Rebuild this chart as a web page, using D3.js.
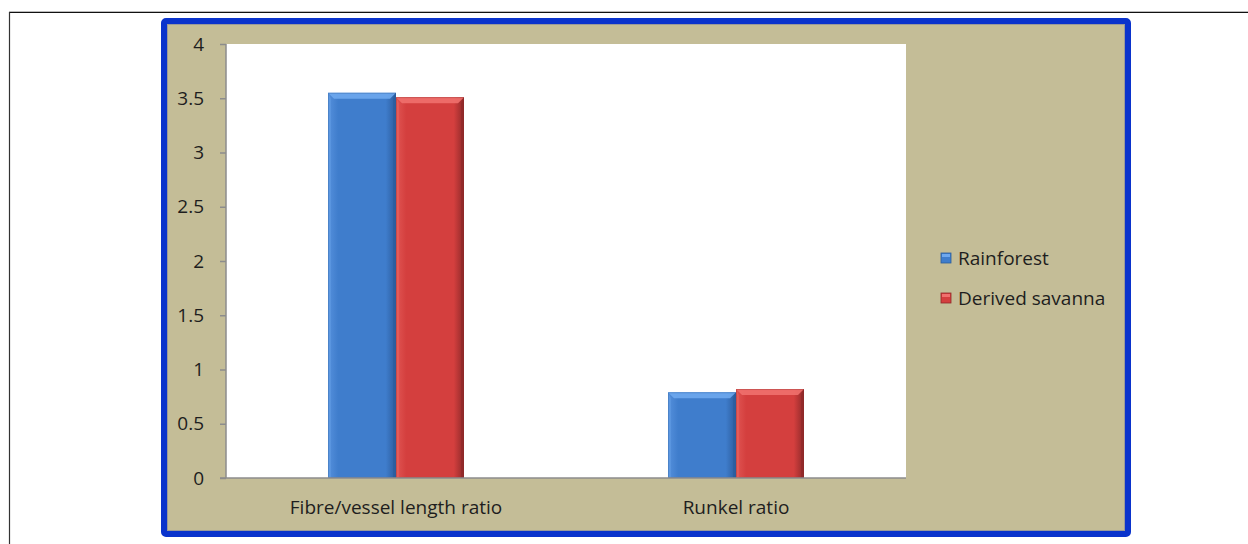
<!DOCTYPE html>
<html>
<head>
<meta charset="utf-8">
<script src="https://cdn.jsdelivr.net/npm/d3@7"></script>
<style>
  html, body { margin: 0; padding: 0; background: #ffffff; }
  svg { display: block; }
</style>
</head>
<body>
<svg id="chart" width="1248" height="544"></svg>
<script>
// Wood anatomy ratios by vegetation zone
const categories = ["Fibre/vessel length ratio", "Runkel ratio"];
const seriesNames = ["Rainforest", "Derived savanna"];
const rainforest = [3.55, 0.79];
const derivedSavanna = [3.51, 0.82];
const yTicks = [0, 0.5, 1, 1.5, 2, 2.5, 3, 3.5, 4];

const seriesValues = [rainforest, derivedSavanna];
const palette = [
  { base: "#3f7dcc", light: "#6ea8ee", dark: "#2b5c9c", side: "#5590dc" },
  { base: "#d43f3e", light: "#f0706d", dark: "#8f2a2a", side: "#e05553" }
];

const svg = d3.select("#chart");
const font = "'Open Sans', sans-serif";
const fontSize = "19px";

// page frame lines
svg.append("line").attr("x1", 9).attr("x2", 1248).attr("y1", 11.5).attr("y2", 11.5)
  .attr("stroke", "#bbbbbb").attr("stroke-width", 1);
svg.append("line").attr("x1", 9).attr("x2", 1248).attr("y1", 12.5).attr("y2", 12.5)
  .attr("stroke", "#111111").attr("stroke-width", 1.2);
svg.append("line").attr("x1", 9.5).attr("x2", 9.5).attr("y1", 12).attr("y2", 544)
  .attr("stroke", "#333333").attr("stroke-width", 1.2);

// chart area with blue frame
svg.append("rect").attr("x", 164).attr("y", 21).attr("width", 964).attr("height", 513)
  .attr("rx", 2).attr("fill", "#c4bd97").attr("stroke", "#0a33cc").attr("stroke-width", 6);
svg.append("rect").attr("x", 167.5).attr("y", 24.5).attr("width", 957).attr("height", 506)
  .attr("fill", "none").attr("stroke", "#9a9a9a").attr("stroke-width", 1);

const plot = { left: 226, right: 906, top: 44, bottom: 478 };

svg.append("rect").attr("x", plot.left).attr("y", plot.top)
  .attr("width", plot.right - plot.left).attr("height", plot.bottom - plot.top)
  .attr("fill", "#ffffff");

const x0 = d3.scaleBand().domain(categories).range([plot.left, plot.right]);
const barW = x0.bandwidth() * 0.2;
const x1 = d3.scaleBand().domain(seriesNames).range([0, barW * 2]);
const y = d3.scaleLinear().domain([0, 4]).range([plot.bottom, plot.top]);

// gradients
const defs = svg.append("defs");
palette.forEach((p, i) => {
  const g = defs.append("linearGradient").attr("id", "grad" + i)
    .attr("x1", "0").attr("x2", "1").attr("y1", "0").attr("y2", "0");
  g.append("stop").attr("offset", "0%").attr("stop-color", p.side);
  g.append("stop").attr("offset", "15%").attr("stop-color", p.base);
  g.append("stop").attr("offset", "85%").attr("stop-color", p.base);
  g.append("stop").attr("offset", "100%").attr("stop-color", p.dark);
});

// bars with bevelled edges
const bev = 6;
categories.forEach((cat, ci) => {
  seriesNames.forEach((s, si) => {
    const v = seriesValues[si][ci];
    const bx = x0(cat) + (x0.bandwidth() - barW * 2) / 2 + x1(s);
    const by = y(v);
    const bw = x1.bandwidth();
    const bh = y(0) - by;
    const p = palette[si];
    const g = svg.append("g");
    g.append("rect").attr("x", bx).attr("y", by).attr("width", bw).attr("height", bh)
      .attr("fill", `url(#grad${si})`);
    // top bevel
    g.append("path").attr("d", `M${bx},${by}L${bx + bw},${by}L${bx + bw - bev},${by + bev}L${bx + bev},${by + bev}Z`)
      .attr("fill", p.light).attr("opacity", 0.9);
    // right bevel
    g.append("path").attr("d", `M${bx + bw},${by}L${bx + bw},${by + bh}L${bx + bw - 3},${by + bh}L${bx + bw - 3},${by + bev}Z`)
      .attr("fill", p.dark).attr("opacity", 0.7);
    // left bevel
    g.append("path").attr("d", `M${bx},${by}L${bx + 3},${by + bev}L${bx + 3},${by + bh}L${bx},${by + bh}Z`)
      .attr("fill", p.light).attr("opacity", 0.35);
    g.append("rect").attr("x", bx + 0.5).attr("y", by + 0.5).attr("width", bw - 1).attr("height", bh - 1)
      .attr("fill", "none").attr("stroke", p.dark).attr("stroke-opacity", 0.35);
  });
});

// y axis
const yAxis = d3.axisLeft(y).tickValues(yTicks).tickSize(6).tickPadding(16)
  .tickFormat(d3.format("~g"));
const ya = svg.append("g").attr("transform", `translate(${plot.left},0)`).call(yAxis);
ya.select(".domain").attr("stroke", "#8c8c8c").attr("stroke-width", 1.5)
  .attr("d", `M0,${plot.top}V${plot.bottom}`);
ya.selectAll(".tick line").attr("stroke", "#8c8c8c").attr("stroke-width", 1.5);
ya.selectAll(".tick text").attr("fill", "#1e1e1e").style("font-family", font).style("font-size", fontSize);

// x axis
const xAxis = d3.axisBottom(x0).tickSize(0).tickPadding(23);
const xa = svg.append("g").attr("transform", `translate(0,${plot.bottom})`).call(xAxis);
xa.select(".domain").attr("stroke", "#8c8c8c").attr("stroke-width", 1.5)
  .attr("d", `M${plot.left - 6},0H${plot.right}`);
xa.selectAll(".tick text").attr("fill", "#1e1e1e").style("font-family", font).style("font-size", fontSize);

// legend
const legend = svg.append("g").attr("transform", "translate(941,253)");
seriesNames.forEach((s, i) => {
  const row = legend.append("g").attr("transform", `translate(0,${i * 40})`);
  const p = palette[i];
  row.append("rect").attr("x", 0).attr("y", 0).attr("width", 10).attr("height", 10)
    .attr("fill", p.base).attr("stroke", p.dark).attr("stroke-width", 0.8);
  row.append("rect").attr("x", 1).attr("y", 1).attr("width", 8).attr("height", 3)
    .attr("fill", p.light);
  row.append("text").attr("x", 17).attr("y", 12).attr("fill", "#1e1e1e")
    .style("font-family", font).style("font-size", fontSize).text(s);
});
</script>
</body>
</html>
